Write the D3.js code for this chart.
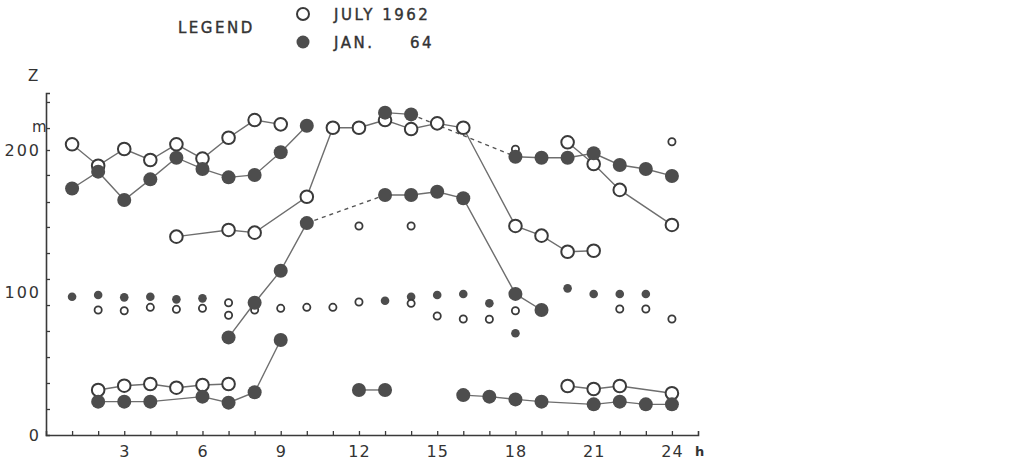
<!DOCTYPE html>
<html>
<head>
<meta charset="utf-8">
<script src="https://cdnjs.cloudflare.com/ajax/libs/d3/7.8.5/d3.min.js"></script>
<style>
	body {margin:0; background:#fff}
	text {font-family:"DejaVu Sans", sans-serif; fill:#333}
</style>
</head>
<body>
<div id="chart"></div>
<script>
//--------------------------------------------------
// data: [hour, Z (m)]
//--------------------------------------------------

var julyTop      = [[1,204],[2,189],[3,200.7],[4,193],[5,204],[6,194],[7,208.6],[8,221],[9,218]]
var julyMid      = [[5,139.2],[7,143.9],[8,142],[10,167.2],[11,215.6],[12,215.6],[13,221],[14,214.7],[15,218.7],[16,215.6],[18,146.7],[19,139.9],[20,128.6],[21,129.3]]
var julyRight    = [[20,205.4],[21,190.2],[22,172],[24,147.4]]
var julyLow      = [[2,31.6],[3,34.6],[4,35.8],[5,33.2],[6,35.1],[7,35.8]]
var julyLowRight = [[20,34.4],[21,32.3],[22,34.4],[24,29.3]]

var janTop      = [[1,173],[2,184.8],[3,164.9],[4,179.4],[5,194.6],[6,186.7],[7,180.8],[8,182.5],[9,198.4],[10,217]]
var janMid      = [[7,68.5],[8,92.8],[9,115.3],[10,148.7]]
var janMid2     = [[13,168.4],[14,168.4],[15,170.7],[16,166.1],[18,99],[19,87.7]]
var janPeak     = [[13,226.2],[14,225]]
var janRight    = [[18,195.3],[19,194.6],[20,194.6],[21,197.7],[22,189.5],[23,186.7],[24,181.8]]
var janLow      = [[2,23.4],[3,23.4],[4,23.4],[6,26.9],[7,22.7],[8,30],[9,66.7]]
var janLowMid   = [[12,31.6],[13,31.6]]
var janLowRight = [[16,28],[17,26.9],[18,25],[19,23.4],[21,21.5],[22,23.4],[23,21.5],[24,21.5]]

// dashed links
var dashed = [[[10,148.7],[13,168.4]], [[14,225],[18,195.3]]]

// single small points
var julyDots = [[2,87.7],[3,87.2],[4,89.6],[5,88.2],[6,88.9],[7,92.8],[7,84],[8,87.7],[9,88.9],[10,89.6],[11,89.6],[12,93.3],[14,92.4],[15,83.5],[16,81.4],[17,81.2],[18,87.2],[22,88.4],[23,88.4],[24,81.4],[12,146.7],[14,146.7],[18,200.5],[24,205.8]]
var janDots  = [[1,97],[2,98.2],[3,96.6],[4,97],[5,95.2],[6,95.9],[13,94.2],[14,97],[15,98.2],[16,98.9],[17,92.4],[18,71.4],[20,102.9],[21,98.9],[22,98.9],[23,98.9]]

var hourTicks  = d3.range(1, 25)
var hourLabels = [3, 6, 9, 12, 15, 18, 21, 24]
var zTicks     = [18.25, 36.5, 54.7, 73, 91.2, 109.5, 127.7, 146, 163.5, 182.5, 200, 215.4, 233.7]
var zLabels    = [0, 100, 200]

var julySeries = [julyTop, julyMid, julyRight, julyLow, julyLowRight]
var janSeries  = [janTop, janMid, janMid2, janPeak, janRight, janLow, janLowMid, janLowRight]

//--------------------------------------------------
// svg e scale
//--------------------------------------------------

var width = 1024, height = 463

var svg = d3.select("#chart").append("svg")
	.attr("width", width)
	.attr("height", height)

var x = d3.scaleLinear().domain([0, 25]).range([46, 698])
var y = d3.scaleLinear().domain([0, 240]).range([435, 93])

var lineColor = "#6e6e6e"
var ink = "#3a3a3a"
var fillGrey = "#4d4d4d"

// assi
var xAxis = svg.append("g")
	.attr("transform", "translate(0," + y(0) + ")")
	.call(d3.axisBottom(x).tickValues(hourTicks).tickSize(-4).tickPadding(11)
		.tickFormat(function(d){ return hourLabels.indexOf(d) >= 0 ? d : "" }))
xAxis.select(".domain").attr("stroke", ink).attr("stroke-width", 1.6)
xAxis.selectAll(".tick line").attr("stroke", ink).attr("stroke-width", 1.3)
xAxis.selectAll(".tick text").attr("font-size", 16).attr("fill", "#333").attr("letter-spacing", 1)
	.attr("font-family", "DejaVu Sans")

svg.append("text")
	.attr("x", x(25) - 3).attr("y", y(0) + 21)
	.attr("font-size", 13).attr("font-weight", "bold")
	.text("h")

var yAxis = svg.append("g")
	.attr("transform", "translate(" + x(0) + ",0)")
	.call(d3.axisLeft(y).tickValues(zTicks).tickSize(-4).tickFormat(""))
yAxis.select(".domain").attr("stroke", ink).attr("stroke-width", 1.6)
yAxis.selectAll(".tick line").attr("stroke", ink).attr("stroke-width", 1.3)

var yLab = svg.append("g")
	.attr("transform", "translate(" + x(0) + ",0)")
	.call(d3.axisLeft(y).tickValues(zLabels).tickSize(0).tickPadding(5))
yLab.select(".domain").remove()
yLab.selectAll(".tick text").attr("font-size", 16).attr("fill", "#333").attr("letter-spacing", 2)
	.attr("font-family", "DejaVu Sans")

svg.append("text").attr("x", 28).attr("y", 81).attr("font-size", 15).text("Z")
svg.append("text").attr("x", 32).attr("y", 132).attr("font-size", 15).text("m")

//--------------------------------------------------
// linee
//--------------------------------------------------

var line = d3.line()
	.x(function(d){ return x(d[0]) })
	.y(function(d){ return y(d[1]) })

var plot = svg.append("g").attr("class", "plot")

plot.selectAll("path.solid")
	.data(julySeries.concat(janSeries))
	.enter()
	.append("path")
	.attr("class", "solid")
	.attr("d", line)
	.attr("fill", "none")
	.attr("stroke", lineColor)
	.attr("stroke-width", 1.4)

plot.selectAll("path.dash")
	.data(dashed)
	.enter()
	.append("path")
	.attr("class", "dash")
	.attr("d", line)
	.attr("fill", "none")
	.attr("stroke", "#555")
	.attr("stroke-width", 1.4)
	.attr("stroke-dasharray", "4,4")

//--------------------------------------------------
// punti
//--------------------------------------------------

plot.selectAll("circle.jdot")
	.data(janDots)
	.enter()
	.append("circle")
	.attr("class", "jdot")
	.attr("cx", function(d){ return x(d[0]) })
	.attr("cy", function(d){ return y(d[1]) })
	.attr("r", 4.3)
	.attr("fill", fillGrey)

plot.selectAll("circle.odot")
	.data(julyDots)
	.enter()
	.append("circle")
	.attr("class", "odot")
	.attr("cx", function(d){ return x(d[0]) })
	.attr("cy", function(d){ return y(d[1]) })
	.attr("r", 3.6)
	.attr("fill", "#fff")
	.attr("stroke", ink)
	.attr("stroke-width", 1.8)

plot.selectAll("circle.open")
	.data(d3.merge(julySeries))
	.enter()
	.append("circle")
	.attr("class", "open")
	.attr("cx", function(d){ return x(d[0]) })
	.attr("cy", function(d){ return y(d[1]) })
	.attr("r", 6.3)
	.attr("fill", "#fff")
	.attr("stroke", ink)
	.attr("stroke-width", 2)

plot.selectAll("circle.full")
	.data(d3.merge(janSeries))
	.enter()
	.append("circle")
	.attr("class", "full")
	.attr("cx", function(d){ return x(d[0]) })
	.attr("cy", function(d){ return y(d[1]) })
	.attr("r", 7)
	.attr("fill", fillGrey)

//--------------------------------------------------
// legenda
//--------------------------------------------------

var legend = svg.append("g").attr("class", "legend")
	.attr("font-size", 15).attr("letter-spacing", 2.5)
	.attr("stroke", "#333").attr("stroke-width", 0.4)

legend.append("text").attr("x", 178).attr("y", 33).text("LEGEND")

legend.append("circle").attr("cx", 303).attr("cy", 14).attr("r", 6)
	.attr("fill", "#fff").attr("stroke", ink).attr("stroke-width", 2)
legend.append("circle").attr("cx", 303).attr("cy", 42).attr("r", 6.5).attr("fill", fillGrey).attr("stroke", "none")

legend.append("text").attr("x", 334).attr("y", 20).text("JULY 1962")
legend.append("text").attr("x", 334).attr("y", 48).text("JAN.")
legend.append("text").attr("x", 410).attr("y", 48).text("64")
</script>
</body>
</html>
